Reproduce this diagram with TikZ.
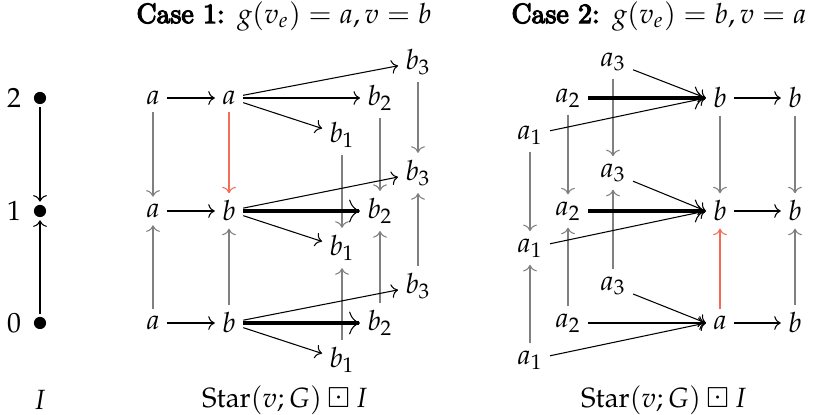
\documentclass[tikz,border=0pt]{standalone}
\usepackage{amssymb}
\usepackage{mathpazo}
\usetikzlibrary{arrows.meta}
\definecolor{redarr}{RGB}{242,108,86}
\newcommand{\casebf}[1]{\special{pdf:literal direct 2 Tr 0.45 w}#1\special{pdf:literal direct 0 Tr 0.4 w}}
\begin{document}
\begin{tikzpicture}[x=0.3774pt,y=-0.3774pt,
  >={Computer Modern Rightarrow[line width=0.4pt]},
  every node/.style={font=\fontsize{10.5}{12.5}\selectfont},
  lab/.style={inner sep=2.6pt},
  harr/.style={->,line width=0.4pt},
  thk/.style={->,line width=1.15pt},
  varr/.style={->,gray,line width=0.4pt},
  rarr/.style={->,redarr,line width=0.4pt},
  dot/.style={circle,fill,inner sep=0pt,minimum size=4.6pt}]
\useasboundingbox (0,0) rectangle (818,415);
% axis I
\node[dot,label={[inner sep=1pt,label distance=3.5pt]left:$2$}] (i2) at (40,98) {};
\node[dot,label={[inner sep=1pt,label distance=3.5pt]left:$1$}] (i1) at (40,211) {};
\node[dot,label={[inner sep=1pt,label distance=3.5pt]left:$0$}] (i0) at (40,323) {};
\draw[->,line width=0.4pt,shorten >=1pt,shorten <=1pt] (i2) -- (i1);
\draw[->,line width=0.4pt,shorten >=1pt,shorten <=1pt] (i0) -- (i1);
\node (Ilab) at (40,400) {$I$};
% Case 1
\node (t1) at (284,16) {\casebf{Case 1:} $g(v_e)=a,v=b$};
\node[lab] (A2) at (153,98) {$a$};
\node[lab] (B2) at (229,98) {$a$};
\node[lab] (P2) at (418,62) {$b_3$};
\node[lab] (Q2) at (380,98) {$b_2$};
\node[lab] (R2) at (342,135) {$b_1$};
\node[lab] (A1) at (153,211) {$a$};
\node[lab] (B1) at (229,211) {$b$};
\node[lab] (P1) at (418,173) {$b_3$};
\node[lab] (Q1) at (380,211) {$b_2$};
\node[lab] (R1) at (342,248) {$b_1$};
\node[lab] (A0) at (153,323) {$a$};
\node[lab] (B0) at (229,323) {$b$};
\node[lab] (P0) at (418,286) {$b_3$};
\node[lab] (Q0) at (380,323) {$b_2$};
\node[lab] (R0) at (342,360) {$b_1$};
\node (s1) at (285,400) {$\mathrm{Star}(v;G)\boxdot I$};
% vertical case 1
\draw[varr] (A2) -- (A1);
\draw[rarr] (B2) -- (B1);
\draw[varr] (P2) -- (P1);
\draw[varr] (Q2) -- (Q1);
\draw[varr] (R2) -- (R1);
\draw[varr] (A0) -- (A1);
\draw[varr] (B0) -- (B1);
\draw[varr] (P0) -- (P1);
\draw[varr] (Q0) -- (Q1);
\draw[varr] (R0) -- (R1);
% horizontal case 1
\draw[harr] (A2) -- (B2);
\draw[harr] (B2) -- (P2);
\draw[harr] (B2) -- (Q2);
\draw[harr] (B2) -- (R2);
\draw[harr] (A1) -- (B1);
\draw[harr] (B1) -- (P1);
\draw[thk] (B1) -- (Q1);
\draw[harr] (B1) -- (R1);
\draw[harr] (A0) -- (B0);
\draw[harr] (B0) -- (P0);
\draw[thk] (B0) -- (Q0);
\draw[harr] (B0) -- (R0);
% Case 2
\node (t2) at (659,16) {\casebf{Case 2:} $g(v_e)=b,v=a$};
\node[lab] (C2) at (613,62) {$a_3$};
\node[lab] (D2) at (568,98) {$a_2$};
\node[lab] (E2) at (530,135) {$a_1$};
\node[lab] (F2) at (720,98) {$b$};
\node[lab] (G2) at (795,98) {$b$};
\node[lab] (C1) at (613,173) {$a_3$};
\node[lab] (D1) at (568,211) {$a_2$};
\node[lab] (E1) at (530,248) {$a_1$};
\node[lab] (F1) at (720,211) {$b$};
\node[lab] (G1) at (795,211) {$b$};
\node[lab] (C0) at (613,286) {$a_3$};
\node[lab] (D0) at (568,323) {$a_2$};
\node[lab] (E0) at (530,360) {$a_1$};
\node[lab] (F0) at (720,323) {$a$};
\node[lab] (G0) at (795,323) {$b$};
\node (s2) at (664,400) {$\mathrm{Star}(v;G)\boxdot I$};
% vertical case 2
\draw[varr] (C2) -- (C1);
\draw[varr] (D2) -- (D1);
\draw[varr] (E2) -- (E1);
\draw[varr] (F2) -- (F1);
\draw[varr] (G2) -- (G1);
\draw[varr] (C0) -- (C1);
\draw[varr] (D0) -- (D1);
\draw[varr] (E0) -- (E1);
\draw[rarr] (F0) -- (F1);
\draw[varr] (G0) -- (G1);
% horizontal case 2
\draw[harr] (C2) -- (F2.west);
\draw[thk] (D2) -- (F2.west);
\draw[harr] (E2) -- (F2.west);
\draw[harr] (F2) -- (G2);
\draw[harr] (C1) -- (F1.west);
\draw[thk] (D1) -- (F1.west);
\draw[harr] (E1) -- (F1.west);
\draw[harr] (F1) -- (G1);
\draw[harr] (C0) -- (F0.west);
\draw[harr] (D0) -- (F0.west);
\draw[harr] (E0) -- (F0.west);
\draw[harr] (F0) -- (G0);
\end{tikzpicture}
\end{document}
